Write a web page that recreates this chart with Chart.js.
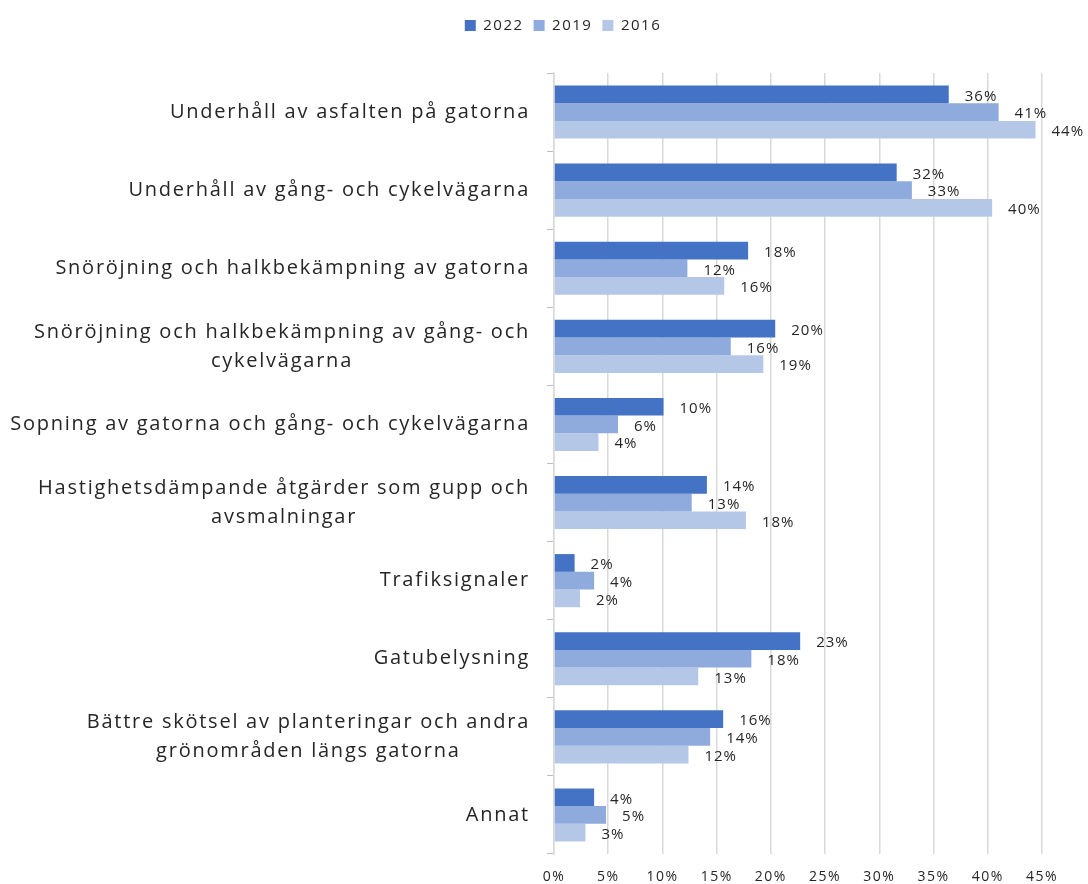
<!DOCTYPE html>
<html>
<head>
<meta charset="utf-8">
<script src="https://cdn.jsdelivr.net/npm/chart.js@4"></script>
<style>
  html, body { margin: 0; padding: 0; background: #fff; }
  #wrap { width: 1088px; height: 884px; }
</style>
</head>
<body>
<div id="wrap"><canvas id="chart" width="1088" height="884"></canvas></div>
<script>
// kategorier (radbrytningar som i originalet)
const categories = [
    ['Underhåll av asfalten på gatorna'],
    ['Underhåll av gång- och cykelvägarna'],
    ['Snöröjning och halkbekämpning av gatorna'],
    ['Snöröjning och halkbekämpning av gång- och', 'cykelvägarna'],
    ['Sopning av gatorna och gång- och cykelvägarna'],
    ['Hastighetsdämpande åtgärder som gupp och', 'avsmalningar'],
    ['Trafiksignaler'],
    ['Gatubelysning'],
    ['Bättre skötsel av planteringar och andra', 'grönområden längs gatorna'],
    ['Annat']
];
const seriesNames = ['2022', '2019', '2016'];
const values2022 = [36.4, 31.6, 17.9, 20.4, 10.1, 14.1, 1.9, 22.7, 15.6, 3.7];
const values2019 = [41.0, 33.0, 12.3, 16.3, 5.9, 12.7, 3.7, 18.2, 14.4, 4.8];
const values2016 = [44.4, 40.4, 15.7, 19.3, 4.1, 17.7, 2.4, 13.3, 12.4, 2.9];
const colors = ['#4472C4', '#8FAADC', '#B4C7E7'];
const xMax = 45;
const xStep = 5;

const textColor = '#262626';
const gridColor = '#D9D9D9';

// egna etiketter: kategorier (centrerade block) + värden vid staplarna
const labelPlugin = {
    id: 'labelPlugin',
    beforeUpdate(chart) {
        chart.ctx.letterSpacing = '1.5px';
    },
    afterDatasetsDraw(chart) {
        const ctx = chart.ctx;
        ctx.save();
        ctx.fillStyle = textColor;
        ctx.font = '15px "Open Sans"';
        ctx.letterSpacing = '1px';
        ctx.textAlign = 'left';
        ctx.textBaseline = 'middle';
        chart.data.datasets.forEach((ds, di) => {
            const meta = chart.getDatasetMeta(di);
            meta.data.forEach((bar, i) => {
                ctx.fillText(Math.round(ds.data[i]) + '%', bar.x + 16, bar.y + 2);
            });
        });
        ctx.restore();
    },
    afterDraw(chart) {
        const ctx = chart.ctx;
        const yScale = chart.scales.y;
        const right = chart.chartArea.left - 24;
        const lineH = 29;
        ctx.save();
        ctx.fillStyle = textColor;
        ctx.font = '20px "Open Sans"';
        ctx.letterSpacing = '1.75px';
        ctx.textAlign = 'center';
        ctx.textBaseline = 'middle';
        categories.forEach((lines, i) => {
            const cy = yScale.getPixelForValue(i);
            const w = Math.max(...lines.map(l => ctx.measureText(l).width));
            const cx = right - w / 2;
            lines.forEach((l, k) => {
                ctx.fillText(l, cx, cy + (k - (lines.length - 1) / 2) * lineH);
            });
        });
        ctx.restore();
    }
};

const ctx = document.getElementById('chart').getContext('2d');
new Chart(ctx, {
    type: 'bar',
    data: {
        labels: categories.map(c => c.join(' ')),
        datasets: [
            { label: seriesNames[0], data: values2022, backgroundColor: colors[0] },
            { label: seriesNames[1], data: values2019, backgroundColor: colors[1] },
            { label: seriesNames[2], data: values2016, backgroundColor: colors[2] }
        ]
    },
    options: {
        indexAxis: 'y',
        responsive: false,
        animation: false,
        categoryPercentage: 0.68,
        barPercentage: 1.0,
        layout: { padding: { top: 8, left: 84, right: 46, bottom: 0 } },
        plugins: {
            legend: {
                position: 'top',
                labels: {
                    boxWidth: 11,
                    boxHeight: 11,
                    padding: 10,
                    color: textColor,
                    font: { family: 'Open Sans', size: 15 }
                }
            },
            tooltip: { enabled: false }
        },
        scales: {
            x: {
                min: 0,
                max: xMax,
                ticks: {
                    stepSize: xStep,
                    padding: 15,
                    color: textColor,
                    font: { family: 'Open Sans', size: 14 },
                    callback: v => v + '%'
                },
                grid: { color: gridColor, lineWidth: 1.5, drawTicks: false },
                border: { display: false },
                afterFit: s => { s.height = 30; }
            },
            x2: {
                position: 'top',
                display: true,
                grid: { display: false },
                ticks: { display: false },
                border: { display: false },
                afterFit: s => { s.height = 30; }
            },
            y: {
                ticks: { display: false },
                grid: { color: '#BFBFBF', drawOnChartArea: false, tickLength: 7 },
                border: { color: gridColor, width: 1.5 },
                afterFit: s => { s.width = 554 - 84; }
            }
        }
    },
    plugins: [labelPlugin]
});
</script>
</body>
</html>
